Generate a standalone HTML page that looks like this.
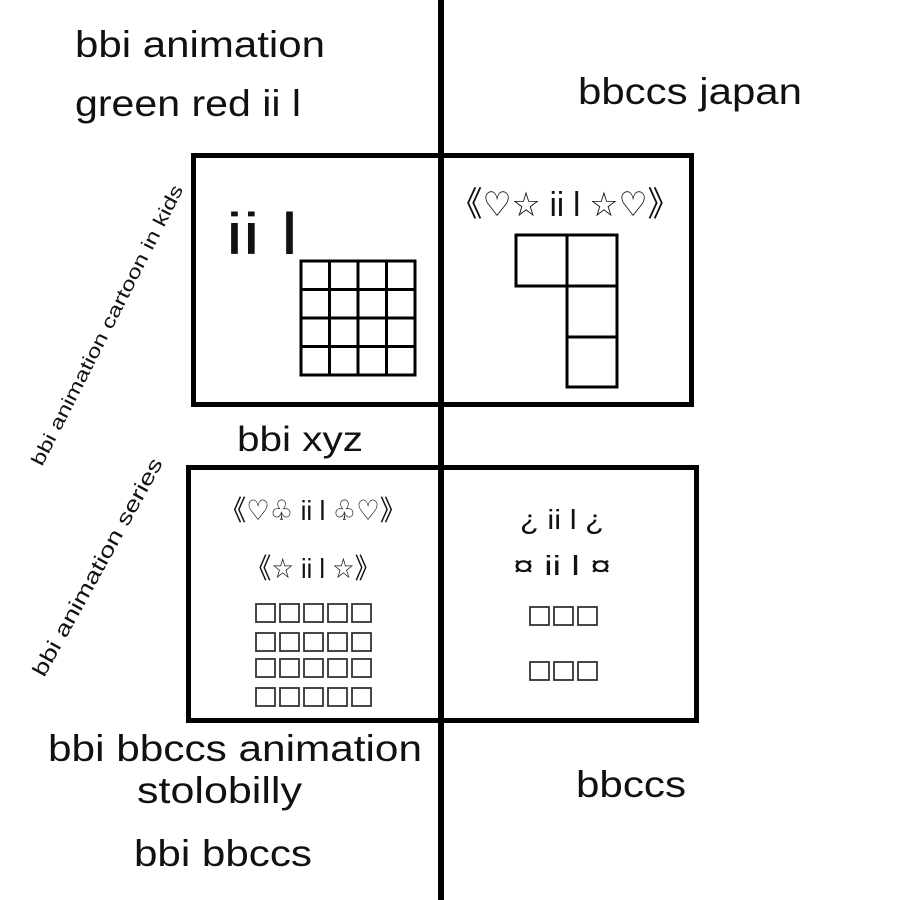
<!DOCTYPE html>
<html><head><meta charset="utf-8"><style>
html,body{margin:0;padding:0;background:#fff;}
svg{display:block;}
text{font-family:"Liberation Sans","DejaVu Sans","Noto Sans CJK JP",sans-serif;fill:#111;}
</style></head><body>
<svg width="900" height="900" viewBox="0 0 900 900" xmlns="http://www.w3.org/2000/svg">
<rect width="900" height="900" fill="#fff"/>
<rect x="193.5" y="155.5" width="498" height="249" fill="none" stroke="#000" stroke-width="5"/>
<rect x="188.5" y="467.5" width="508" height="253" fill="none" stroke="#000" stroke-width="5"/>
<line x1="441" y1="0" x2="441" y2="900" stroke="#000" stroke-width="6"/>

<text x="75" y="57" font-size="37" textLength="250" lengthAdjust="spacingAndGlyphs">bbi animation</text>
<text x="75" y="116" font-size="37" textLength="226" lengthAdjust="spacingAndGlyphs">green red ii l</text>
<text x="578" y="104" font-size="37" textLength="224" lengthAdjust="spacingAndGlyphs">bbccs japan</text>

<text x="226" y="254" font-size="58" textLength="72" lengthAdjust="spacingAndGlyphs">ii l</text>
<g fill="none" stroke="#000" stroke-width="3">
<rect x="301" y="261" width="114" height="114"/>
<line x1="329.5" y1="261" x2="329.5" y2="375"/>
<line x1="358" y1="261" x2="358" y2="375"/>
<line x1="386.5" y1="261" x2="386.5" y2="375"/>
<line x1="301" y1="289.5" x2="415" y2="289.5"/>
<line x1="301" y1="318" x2="415" y2="318"/>
<line x1="301" y1="346.5" x2="415" y2="346.5"/>
</g>

<text x="450" y="216" font-size="34" textLength="230" lengthAdjust="spacingAndGlyphs">《♡☆ ii l ☆♡》</text>
<g fill="none" stroke="#000" stroke-width="3">
<rect x="516" y="235" width="51" height="51"/>
<rect x="567" y="235" width="50" height="51"/>
<rect x="567" y="286" width="50" height="51"/>
<rect x="567" y="337" width="50" height="50"/>
</g>

<text x="237" y="451" font-size="35" textLength="126" lengthAdjust="spacingAndGlyphs">bbi xyz</text>

<text x="220" y="520" font-size="28" textLength="186" lengthAdjust="spacingAndGlyphs">《♡♧ ii l ♧♡》</text>
<text x="246" y="578" font-size="28" textLength="134" lengthAdjust="spacingAndGlyphs">《☆ ii l ☆》</text>
<g fill="none" stroke="#333" stroke-width="1.8">
<g id="r1">
<rect x="256" y="604" width="19" height="18"/><rect x="280" y="604" width="19" height="18"/><rect x="304" y="604" width="19" height="18"/><rect x="328" y="604" width="19" height="18"/><rect x="352" y="604" width="19" height="18"/>
</g>
<use href="#r1" y="29"/>
<use href="#r1" y="55"/>
<use href="#r1" y="84"/>
</g>

<text x="520" y="529" font-size="28" textLength="84" lengthAdjust="spacingAndGlyphs">¿ ii l ¿</text>
<text x="513" y="575" font-size="28" textLength="98" lengthAdjust="spacingAndGlyphs">¤ ii l ¤</text>
<g fill="none" stroke="#333" stroke-width="1.8">
<g id="r2"><rect x="530" y="607" width="19" height="18"/><rect x="554" y="607" width="19" height="18"/><rect x="578" y="607" width="19" height="18"/></g>
<use href="#r2" y="55"/>
</g>

<text x="48" y="761" font-size="37" textLength="374" lengthAdjust="spacingAndGlyphs">bbi bbccs animation</text>
<text x="137" y="803" font-size="37" textLength="165" lengthAdjust="spacingAndGlyphs">stolobilly</text>
<text x="134" y="866" font-size="37" textLength="178" lengthAdjust="spacingAndGlyphs">bbi bbccs</text>
<text x="576" y="797" font-size="37" textLength="110" lengthAdjust="spacingAndGlyphs">bbccs</text>

<text transform="translate(42,467) rotate(-63)" font-size="19" textLength="312" lengthAdjust="spacingAndGlyphs">bbi animation cartoon in kids</text>
<text transform="translate(44,678) rotate(-61)" font-size="21" textLength="246" lengthAdjust="spacingAndGlyphs">bbi animation series</text>
</svg>
</body></html>
